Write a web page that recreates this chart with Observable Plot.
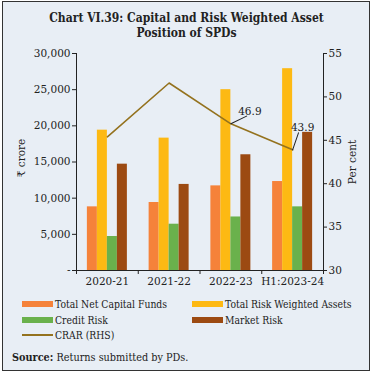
<!DOCTYPE html>
<html><head><meta charset="utf-8">
<script src="https://cdn.jsdelivr.net/npm/d3@7"></script>
<script src="https://cdn.jsdelivr.net/npm/@observablehq/plot@0.6"></script>
<style>
html,body{margin:0;padding:0;background:#fff;}
#wrap{position:relative;width:373px;height:374px;overflow:hidden;font-family:"DejaVu Serif",serif;color:#222;}
#frame{position:absolute;left:2px;top:1px;width:366px;height:368px;border:1px solid #333;background:#E8EEF5;}
#chart{position:absolute;left:0;top:0;}
.title{position:absolute;left:0;width:373px;text-align:center;font-weight:bold;font-size:12px;font-family:"DejaVu Serif Condensed","DejaVu Serif",serif;white-space:nowrap;}
.leg{position:absolute;font-size:10.3px;font-family:"DejaVu Serif Condensed","DejaVu Serif",serif;white-space:nowrap;line-height:12px;}
.sw{position:absolute;width:31px;height:6px;}
.ln{position:absolute;width:31px;height:2px;}
.ylab{position:absolute;font-size:10.5px;white-space:nowrap;transform:translate(-50%,-50%) rotate(-90deg);}
#source{position:absolute;left:12px;top:351px;font-size:10.8px;font-family:"DejaVu Serif Condensed","DejaVu Serif",serif;white-space:nowrap;}
</style></head>
<body>
<div id="wrap">
  <div id="frame"></div>
  <div id="chart"></div>
</div>
<script>
// ---- data ----
const categories = ["2020-21", "2021-22", "2022-23", "H1:2023-24"];
const totalNetCapitalFunds = [8800, 9400, 11700, 12300];
const totalRiskWeightedAssets = [19400, 18300, 25000, 27900];
const creditRisk = [4700, 6400, 7400, 8800];
const marketRisk = [14700, 11900, 16000, 19100];
const crar = [45.4, 51.6, 46.9, 43.9];
const leftTicks = [0, 5000, 10000, 15000, 20000, 25000, 30000];
const rightTicks = [30, 35, 40, 45, 50, 55];
const seriesNames = ["Total Net Capital Funds", "Total Risk Weighted Assets", "Credit Risk", "Market Risk"];
const lineName = "CRAR (RHS)";
const title1 = "Chart VI.39: Capital and Risk Weighted Asset";
const title2 = "Position of SPDs";
const leftLabel = "₹ crore";
const rightLabel = "Per cent";
const labelled = [2, 3]; // indices of CRAR points with value labels

// ---- styling ----
const colors = ["#F5823A", "#FDB913", "#6AB14C", "#9C4A12"];
const lineColor = "#94721E";
const font = "DejaVu Serif";

const leftDomain = [0, 30000];
const rightDomain = [30, 55];
const toLeft = v => (v - rightDomain[0]) / (rightDomain[1] - rightDomain[0]) * (leftDomain[1] - leftDomain[0]) + leftDomain[0];
const fromLeft = v => (v - leftDomain[0]) / (leftDomain[1] - leftDomain[0]) * (rightDomain[1] - rightDomain[0]) + rightDomain[0];

const allSeries = [totalNetCapitalFunds, totalRiskWeightedAssets, creditRisk, marketRisk];

const W = 373, H = 374;
const mL = 76, mR = 50, mT = 53, mB = 104;
const step = (W - mL - mR) / categories.length;
const barW = 10;
const pad = (step - barW * allSeries.length) / 2;

const barMarks = allSeries.map((vals, j) =>
  Plot.rectY(vals.map((v, i) => ({i, v})), {
    x1: d => d.i, x2: d => d.i + 1, y: "v",
    fill: colors[j],
    insetLeft: pad + barW * j,
    insetRight: step - pad - barW * (j + 1)
  })
);

const lineData = crar.map((v, i) => ({x: i + 0.5, y: toLeft(v), v}));
// annotation styling: leader length/angle and label offset (pixels)
const annot = [
  {len: 17.5, rot: 64, dx: 19, dy: -12.5},
  {len: 18, rot: 19, dx: 10, dy: -22.5}
];
const lineShape = {draw(context, l) { context.moveTo(0, 0); context.lineTo(0, -l); }};
const annotMarks = labelled.flatMap((idx, k) => {
  const a = annot[k];
  const d = [lineData[idx]];
  return [
    Plot.vector(d, {x: "x", y: "y", length: a.len, rotate: a.rot, anchor: "start", shape: lineShape, stroke: "#222", strokeWidth: 1}),
    Plot.text(d, {x: "x", y: "y", text: p => p.v.toFixed(1), dx: a.dx, dy: a.dy, fill: "#222", fontSize: 10.5})
  ];
});

const chart = Plot.plot({
  width: W, height: H,
  marginLeft: mL, marginRight: mR, marginTop: mT, marginBottom: mB,
  style: {background: "transparent", fontFamily: font, fontSize: "10.5px", color: "#222", overflow: "visible"},
  x: {type: "linear", domain: [0, categories.length], axis: null},
  y: {domain: leftDomain, axis: null},
  marks: [
    ...barMarks,
    Plot.line(lineData, {x: "x", y: "y", stroke: lineColor, strokeWidth: 1.6}),
    ...annotMarks,
    Plot.ruleY([0], {stroke: "#222"}),
    Plot.ruleX([0], {stroke: "#222"}),
    Plot.ruleX([categories.length], {stroke: "#222"}),
    Plot.axisY({ticks: leftTicks, tickFormat: d => d === 0 ? "-" : d3.format(",")(d), tickSize: 4, tickPadding: 2, label: null, stroke: "#222", fill: "#222"}),
    Plot.axisY({anchor: "right", ticks: rightTicks.map(toLeft), tickFormat: d => String(Math.round(fromLeft(d))), tickSize: 3, tickPadding: 2, label: null, stroke: "#222", fill: "#222"}),
    Plot.axisX({ticks: d3.range(categories.length + 1), tickSize: 4, tickFormat: () => "", label: null, stroke: "#222"}),
    Plot.axisX({ticks: categories.map((c, i) => i + 0.5), tickSize: 0, tickPadding: 7, tickFormat: d => categories[Math.floor(d)], label: null, fill: "#222"})
  ]
});
document.getElementById("chart").appendChild(chart);

const wrap = document.getElementById("wrap");
function add(html, cls, style) {
  const el = document.createElement("div");
  el.className = cls;
  el.innerHTML = html;
  Object.assign(el.style, style);
  wrap.appendChild(el);
  return el;
}
add(title1, "title", {top: "11px"});
add(title2, "title", {top: "26px"});
add(leftLabel, "ylab", {left: "21px", top: "158px"});
add(rightLabel, "ylab", {left: "352px", top: "162px"});

const legPos = [[22, 300.5], [192, 300.5], [22, 316.5], [192, 316.5]];
seriesNames.forEach((name, j) => {
  const [x, y] = legPos[j];
  add("", "sw", {left: x + "px", top: y + "px", background: colors[j]});
  add(name, "leg", {left: (x + 33) + "px", top: (y - 3) + "px"});
});
add("", "ln", {left: "22px", top: "333.5px", background: lineColor});
add(lineName, "leg", {left: "55px", top: "328.5px"});
add("<b>Source:</b> Returns submitted by PDs.", "", {}).id = "source";
</script>
</body></html>
